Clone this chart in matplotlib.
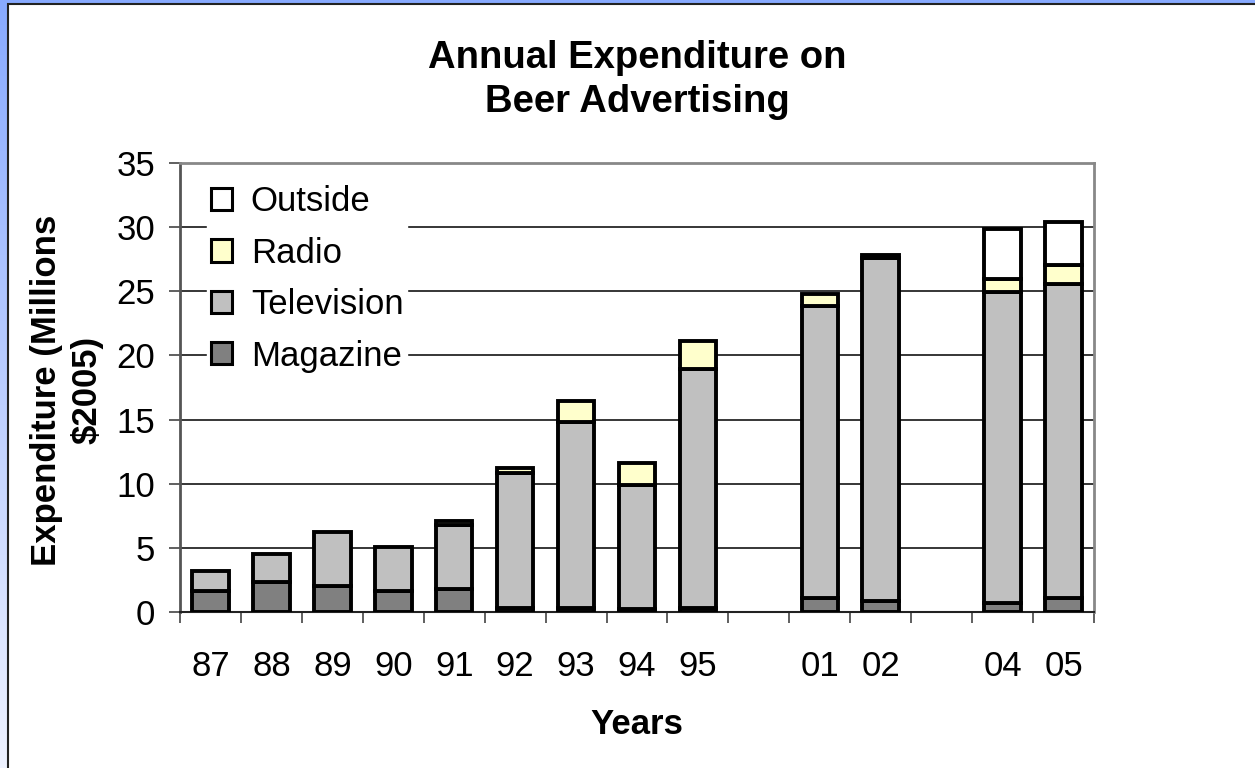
import numpy as np
import matplotlib
matplotlib.use("Agg")
import matplotlib.pyplot as plt
from matplotlib.patches import Rectangle

plt.rcParams['font.family'] = ['Liberation Sans', 'DejaVu Sans']

# category slots; empty strings are the years with no survey data
years = ["87", "88", "89", "90", "91", "92", "93", "94", "95", "", "01", "02", "", "04", "05"]
slots = [0, 1, 2, 3, 4, 5, 6, 7, 8, 10, 11, 13, 14]

magazine = [1.65, 2.35, 2.0, 1.65, 1.8, 0.3, 0.3, 0.25, 0.3, 1.1, 0.85, 0.7, 1.1]
television = [1.55, 2.15, 4.2, 3.4, 5.0, 10.55, 14.5, 9.65, 18.65, 22.75, 26.75, 24.25, 24.45]
radio = [0.0, 0.0, 0.0, 0.0, 0.3, 0.4, 1.65, 1.7, 2.15, 0.95, 0.25, 1.0, 1.5]
outside = [0.0, 0.0, 0.0, 0.0, 0.0, 0.0, 0.0, 0.0, 0.0, 0.0, 0.0, 3.9, 3.35]

W, H = 1255, 768
fig = plt.figure(figsize=(W / 100, H / 100), dpi=100)

# blue frame behind the white panel
bg = fig.add_axes([0, 0, 1, 1], zorder=-10)
grad = np.linspace(0, 1, 256).reshape(-1, 1)
cmap = matplotlib.colors.LinearSegmentedColormap.from_list("frame", ["#88aaff", "#eef2ff"])
bg.imshow(grad, aspect="auto", cmap=cmap, extent=[0, 1, 0, 1])
bg.add_patch(Rectangle((8 / W, -0.01), 1.0, (H - 4) / H + 0.01, transform=bg.transAxes,
                       facecolor="white", edgecolor="#222222", linewidth=1.5))
bg.set_xlim(0, 1)
bg.set_ylim(0, 1)
bg.axis("off")

ax = fig.add_axes([180 / W, 1 - 612 / H, (1094 - 180) / W, (612 - 163) / H])

x = np.array(slots)
bw = 0.6
lw = 2.8
colors = {"Magazine": "#808080", "Television": "#c0c0c0", "Radio": "#ffffcc", "Outside": "#ffffff"}

bottom = np.zeros(len(x))
for name, vals in [("Magazine", magazine), ("Television", television), ("Radio", radio), ("Outside", outside)]:
    vals = np.array(vals)
    m = vals > 0
    ax.bar(x[m], vals[m], bw, bottom=bottom[m], color=colors[name], edgecolor="black",
           linewidth=lw, zorder=3)
    bottom += vals

ax.set_xlim(-0.5, 14.5)
ax.set_ylim(0, 35)
ax.set_yticks(np.arange(0, 36, 5))
ax.set_xticks(np.arange(15))
ax.set_xticklabels(years)
ax.set_xticks(np.arange(-0.5, 15, 1), minor=True)
ax.tick_params(axis="x", which="major", length=0, pad=27, labelsize=25)
ax.tick_params(axis="x", which="minor", length=8, width=1.2, color="#444444", direction="out")
ax.tick_params(axis="y", length=8, width=1.2, color="#444444", labelsize=25, pad=10)

ax.grid(axis="y", color="black", linewidth=1.1, zorder=0)
ax.set_axisbelow(True)
for s in ["top", "right"]:
    ax.spines[s].set_color("#888888")
    ax.spines[s].set_linewidth(2)
ax.spines["left"].set_color("#555555")
ax.spines["left"].set_linewidth(2)
ax.spines["bottom"].set_color("#222222")
ax.spines["bottom"].set_linewidth(1.5)

handles = [Rectangle((0, 0), 1, 1, facecolor=colors[n], edgecolor="black", linewidth=2.2)
           for n in ["Outside", "Radio", "Television", "Magazine"]]
leg = ax.legend(handles, ["Outside", "Radio", "Television", "Magazine"], loc="upper left",
                bbox_to_anchor=(0.03, 0.958), frameon=True, fancybox=False, framealpha=1,
                edgecolor="white", fontsize=25, handlelength=0.6, handleheight=0.6,
                handletextpad=0.55, labelspacing=0.53, borderpad=0.1, borderaxespad=0)
leg.set_zorder(5)

fig.text(637 / W, 1 - 80 / H, "Annual Expenditure on\nBeer Advertising", ha="center", va="center",
         fontsize=27.5, fontweight="bold", linespacing=1.3)
fig.text(637 / W, 1 - 725 / H, "Years", ha="center", va="center", fontsize=25, fontweight="bold")
fig.text(67 / W, 1 - 390 / H, "Expenditure (Millions\n$2005)", ha="center", va="center",
         rotation=90, fontsize=25, fontweight="bold", linespacing=1.3)

fig.savefig("out.png", dpi=100)
